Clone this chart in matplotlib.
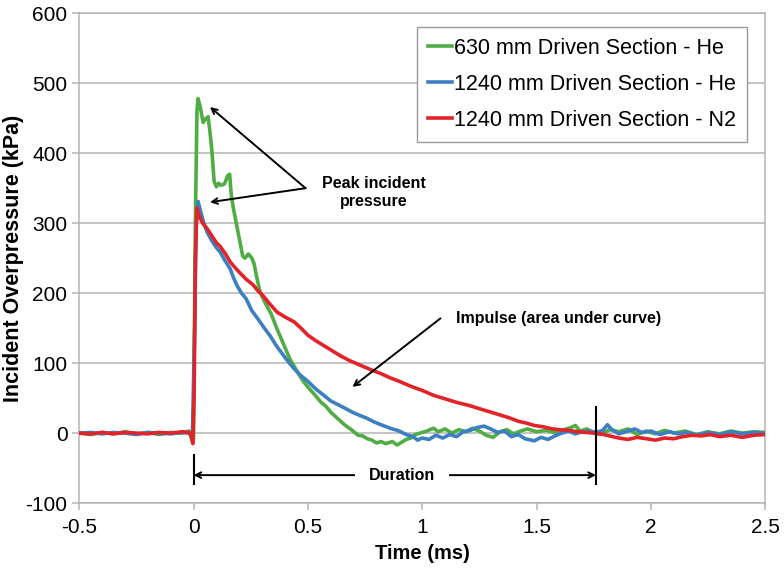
import matplotlib
matplotlib.use("Agg")
import matplotlib.pyplot as plt

plt.rcParams['font.family'] = ['Liberation Sans', 'DejaVu Sans']
plt.rcParams['axes.unicode_minus'] = False

# 630 mm driven section, helium
t_green = [-0.50, -0.45, -0.40, -0.35, -0.30, -0.25, -0.20, -0.15, -0.10, -0.05, -0.02, -0.005, 0.0,
           0.008, 0.015, 0.02, 0.03, 0.042, 0.055, 0.064, 0.072, 0.08, 0.09, 0.10, 0.11, 0.12, 0.135,
           0.15, 0.158, 0.165, 0.175, 0.19, 0.205, 0.215, 0.225, 0.24, 0.255, 0.265, 0.275, 0.29, 0.30,
           0.32, 0.34, 0.365, 0.39, 0.42, 0.45, 0.48, 0.51, 0.53, 0.555, 0.58, 0.60, 0.63, 0.66, 0.69,
           0.72, 0.74, 0.76, 0.78, 0.80, 0.82, 0.84, 0.87, 0.89, 0.91, 0.93, 0.95, 0.97, 0.99, 1.02,
           1.05, 1.07, 1.10, 1.13, 1.16, 1.19, 1.22, 1.25, 1.28, 1.31, 1.34, 1.37, 1.40, 1.43, 1.46,
           1.50, 1.54, 1.58, 1.62, 1.65, 1.67, 1.69, 1.72, 1.75, 1.78, 1.82, 1.86, 1.90, 1.94, 1.98,
           2.02, 2.06, 2.10, 2.15, 2.20, 2.25, 2.30, 2.35, 2.40, 2.45, 2.50]
p_green = [0, -2, 1, -1, 2, -1, 1, -2, 1, 0, 3, -12, -8,
           300, 460, 478, 465, 444, 450, 452, 430, 405, 360, 352, 357, 354, 356,
           368, 370, 340, 320, 295, 270, 253, 250, 256, 250, 242, 225, 203, 195,
           182, 170, 149, 130, 107, 90, 74, 62, 55, 45, 38, 30, 21, 12, 5,
           -3, -4, -8, -10, -14, -12, -15, -12, -17, -13, -9, -7, -2, 0, 3,
           7, 2, 6, 0, 5, 2, 7, 3, -3, -6, 2, 5, -1, 3, 6,
           2, 4, 1, 5, 8, 11, 3, 6, 1, -2, 5, 2, 6, -2, 3,
           -1, 4, 0, 3, -2, 2, -1, 3, 0, 2, 1]

# 1240 mm driven section, helium
t_blue = [-0.50, -0.45, -0.40, -0.35, -0.30, -0.25, -0.20, -0.15, -0.10, -0.05, -0.02, -0.005,
          0.005, 0.012, 0.02, 0.03, 0.045, 0.06, 0.08, 0.10, 0.116, 0.135, 0.16, 0.175, 0.19, 0.21,
          0.23, 0.255, 0.28, 0.31, 0.335, 0.36, 0.38, 0.41, 0.44, 0.47, 0.50, 0.535, 0.57, 0.60, 0.63,
          0.66, 0.70, 0.73, 0.76, 0.79, 0.82, 0.86, 0.90, 0.93, 0.96, 0.98, 1.00, 1.03, 1.06, 1.09,
          1.12, 1.15, 1.18, 1.21, 1.24, 1.27, 1.30, 1.33, 1.36, 1.39, 1.42, 1.45, 1.49, 1.52, 1.55,
          1.58, 1.61, 1.64, 1.67, 1.70, 1.73, 1.76, 1.79, 1.81, 1.83, 1.86, 1.90, 1.93, 1.96, 2.00,
          2.04, 2.08, 2.12, 2.16, 2.20, 2.25, 2.30, 2.35, 2.40, 2.45, 2.50]
p_blue = [0, 1, -1, 1, 0, -2, 1, 0, -1, 1, 0, -5,
          150, 300, 331, 318, 300, 287, 275, 265, 259, 248, 235, 222, 211, 200,
          192, 175, 164, 150, 139, 126, 117, 104, 92, 82, 74, 63, 54, 46, 41,
          36, 29, 25, 21, 16, 12, 7, 3, -2, -5, -10, -7, -9, -3, -7,
          -2, -5, 2, 4, 8, 10, 6, 1, 3, -5, -2, -8, -11, -6, -9,
          -4, 0, 3, -1, 2, 3, 1, 4, 12, 5, -1, 3, 6, 1, 3,
          -2, 2, -1, 1, -3, 1, -2, 2, -1, 1, 0]

# 1240 mm driven section, nitrogen
t_red = [-0.50, -0.45, -0.40, -0.35, -0.30, -0.25, -0.20, -0.15, -0.10, -0.05, -0.02, -0.01, -0.003,
         0.003, 0.008, 0.015, 0.025, 0.04, 0.06, 0.08, 0.10, 0.116, 0.14, 0.16, 0.175, 0.20, 0.23,
         0.26, 0.28, 0.305, 0.33, 0.365, 0.40, 0.44, 0.47, 0.50, 0.535, 0.57, 0.60, 0.64, 0.68, 0.73,
         0.78, 0.82, 0.86, 0.90, 0.95, 1.00, 1.05, 1.10, 1.15, 1.20, 1.25, 1.30, 1.34, 1.38, 1.42,
         1.46, 1.49, 1.53, 1.57, 1.60, 1.64, 1.68, 1.72, 1.75, 1.78, 1.82, 1.86, 1.90, 1.94, 1.98,
         2.02, 2.06, 2.10, 2.14, 2.18, 2.22, 2.26, 2.30, 2.35, 2.40, 2.45, 2.50]
p_red = [0, -1, 1, -1, 1, 0, -1, 1, 0, 2, 1, -3, -15,
         60, 250, 322, 310, 300, 292, 282, 272, 267, 256, 245, 239, 230, 220,
         212, 204, 196, 186, 173, 166, 159, 150, 140, 132, 125, 119, 111, 104, 97,
         90, 85, 79, 74, 67, 61, 54, 49, 44, 40, 35, 30, 26, 22, 17,
         14, 11, 9, 6, 5, 4, 2, 1, 0, -1, -4, -7, -9, -6, -8,
         -10, -7, -8, -5, -3, -4, -2, -5, -3, -6, -3, -2]

labels = ['630 mm Driven Section - He', '1240 mm Driven Section - He', '1240 mm Driven Section - N2']
colors = ['#4fad44', '#3c80c2', '#e2232a']

x_ticks = [-0.5, 0, 0.5, 1, 1.5, 2, 2.5]
x_ticklabels = ['-0.5', '0', '0.5', '1', '1.5', '2', '2.5']
y_ticks = [-100, 0, 100, 200, 300, 400, 500, 600]
duration_end = 1.76

fig = plt.figure(figsize=(7.84, 5.75), dpi=100)
ax = fig.add_axes([0.101, 0.125, 0.875, 0.852])

ax.plot(t_green, p_green, color=colors[0], lw=2.6, label=labels[0], zorder=3)
ax.plot(t_blue, p_blue, color=colors[1], lw=2.6, label=labels[1], zorder=3)
ax.plot(t_red, p_red, color=colors[2], lw=2.6, label=labels[2], zorder=3)

ax.set_xlim(-0.5, 2.5)
ax.set_ylim(-100, 600)
ax.set_xticks(x_ticks)
ax.set_xticklabels(x_ticklabels)
ax.set_yticks(y_ticks)
ax.yaxis.grid(True, color='#b4b4b4', lw=1.1)
ax.set_axisbelow(True)
for s in ax.spines.values():
    s.set_color('#b4b4b4')
    s.set_linewidth(1.1)
ax.tick_params(axis='both', colors='#b4b4b4', labelcolor='black', labelsize=15,
               length=5, width=1.1, direction='out')
ax.tick_params(axis='x', pad=6)

ax.set_xlabel('Time (ms)', fontsize=14.5, fontweight='bold', labelpad=5)
ax.set_ylabel('Incident Overpressure (kPa)', fontsize=15.5, fontweight='bold', labelpad=1)

leg = ax.legend(loc='upper right', bbox_to_anchor=(0.973, 0.972), borderaxespad=0, fontsize=15.5,
                handlelength=1.1, handletextpad=0.1, borderpad=0.5, labelspacing=0.7,
                fancybox=False, framealpha=1, edgecolor='#9a9a9a')
leg.get_frame().set_linewidth(1.0)

# peak pressure annotation
arrow = dict(arrowstyle='->', color='black', lw=1.4, shrinkA=0, shrinkB=0)
ax.annotate('', xy=(0.072, 466), xytext=(0.49, 350), arrowprops=arrow)
ax.annotate('', xy=(0.072, 330), xytext=(0.49, 350), arrowprops=arrow)
ax.text(0.79, 344, 'Peak incident\npressure', ha='center', va='center',
        fontsize=11.5, fontweight='bold', linespacing=1.2)

# impulse annotation
ax.annotate('', xy=(0.695, 66), xytext=(1.08, 164), arrowprops=arrow)
ax.text(1.147, 164, 'Impulse (area under curve)', ha='left', va='center',
        fontsize=11.5, fontweight='bold')

# duration marker
ax.plot([0, 0], [-31, -72], color='black', lw=1.5, zorder=4)
ax.plot([duration_end, duration_end], [37, -72], color='black', lw=1.5, zorder=4)
ax.annotate('', xy=(0, -60), xytext=(duration_end, -60),
            arrowprops=dict(arrowstyle='<->', color='black', lw=1.4, shrinkA=0, shrinkB=0))
ax.text(duration_end / 2 + 0.03, -60, 'Duration', ha='center', va='center',
        fontsize=11.5, fontweight='bold',
        bbox=dict(facecolor='white', edgecolor='none', pad=10))

fig.savefig('out.png', dpi=100)
